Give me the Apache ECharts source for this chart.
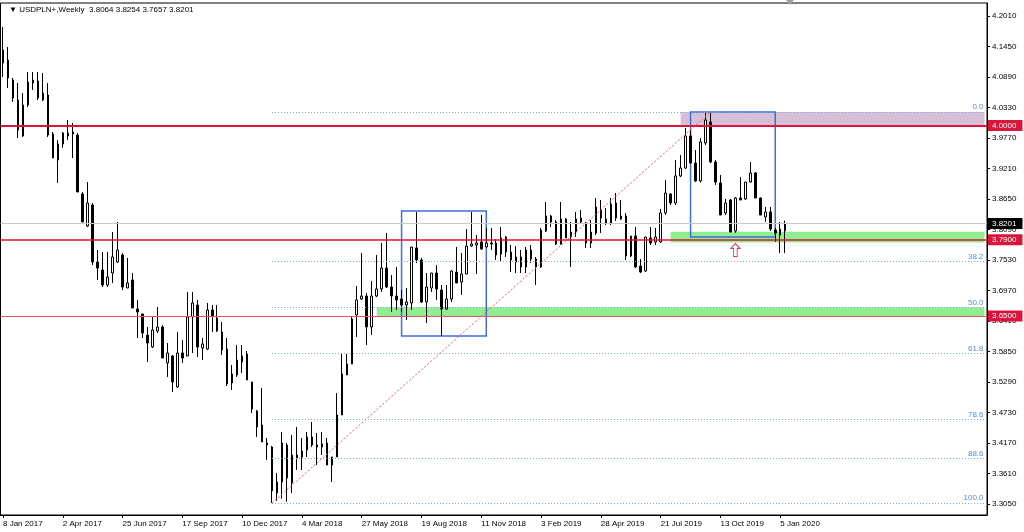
<!DOCTYPE html>
<html><head><meta charset="utf-8">
<script src="https://cdn.jsdelivr.net/npm/echarts@6/dist/echarts.min.js"></script>
<style>html,body{margin:0;padding:0;background:#fff;}#c{width:1024px;height:532px;}</style>
</head><body><div id="c"></div>
<script>
// ---- data (weekly USDPLN candles) ----
const openP = [4.1386,4.1202,4.0835,4.0468,3.9807,4.0376,4.0780,4.0817,4.0468,4.0560,
3.9844,3.9366,3.9660,3.9807,3.9844,3.9825,3.8742,3.8154,3.8540,3.7493,
3.7347,3.7071,3.7291,3.7493,3.7622,3.7016,3.7163,3.6630,3.6539,3.6153,
3.5933,3.6227,3.6300,3.5639,3.5768,3.5198,3.5823,3.5768,3.6484,3.6704,
3.5914,3.5896,3.6612,3.6465,3.6208,3.5896,3.5272,3.5419,3.5657,3.5804,
3.5290,3.4758,3.4501,3.4170,3.4097,3.3252,3.3454,3.4133,3.3436,3.3895,
3.3913,3.4042,3.4280,3.4133,3.4097,3.4170,3.3766,3.3913,3.4684,3.5419,
3.5621,3.6520,3.6814,3.6869,3.6300,3.6869,3.6998,3.7383,3.7034,3.6869,
3.6814,3.6704,3.6741,3.7751,3.7530,3.6759,3.7016,3.7291,3.6979,3.6630,
3.6814,3.7310,3.7126,3.7273,3.7787,3.7806,3.7861,3.7769,3.7842,3.7842,
3.7640,3.7952,3.7677,3.7493,3.7585,3.7402,3.7714,3.7549,3.7402,3.8063,
3.8338,3.8228,3.7824,3.8283,3.7952,3.8044,3.8301,3.8210,3.7842,3.8026,
3.8448,3.8283,3.8210,3.8301,3.8283,3.8338,3.7604,3.7971,3.7420,3.7328,
3.7934,3.7861,3.7861,3.8393,3.8742,3.8577,3.9073,3.9219,3.9807,3.9311,
3.8981,3.9678,4.0064,3.9330,3.8944,3.8393,3.8632,3.8063,3.8669,3.8650,
3.8962,3.9128,3.8669,3.8320,3.8412,3.8081,3.7989,3.8064];
const highP = [4.1808,4.1441,4.0872,4.0780,4.0596,4.0982,4.0982,4.0982,4.0964,4.0780,
3.9880,3.9734,3.9880,4.0101,4.0046,3.9862,3.8779,3.8962,3.8577,3.7714,
3.7677,3.7677,3.8044,3.8228,3.7659,3.7567,3.7291,3.6796,3.6539,3.6300,
3.6484,3.6667,3.6337,3.6006,3.5786,3.6208,3.6061,3.6943,3.6943,3.6796,
3.6098,3.6741,3.6704,3.6704,3.6392,3.6098,3.5602,3.5970,3.5970,3.5859,
3.5290,3.4776,3.5180,3.4262,3.4115,3.3619,3.4372,3.4170,3.4317,3.4464,
3.4262,3.4372,3.4556,3.4354,3.4372,3.4262,3.3913,3.5088,3.5804,3.5804,
3.6484,3.7053,3.7659,3.6924,3.7145,3.7622,3.7842,3.8026,3.7255,3.7402,
3.6979,3.7016,3.7769,3.8412,3.7567,3.7291,3.7291,3.7438,3.7071,3.7071,
3.7347,3.7769,3.7659,3.8099,3.8412,3.7989,3.8356,3.8118,3.8118,3.7916,
3.8136,3.7970,3.7806,3.7787,3.7714,3.7769,3.7806,3.7585,3.8118,3.8595,
3.8356,3.8265,3.8595,3.8301,3.8228,3.8412,3.8448,3.8228,3.8265,3.8669,
3.8632,3.8485,3.8669,3.8760,3.8632,3.8393,3.7971,3.8136,3.7549,3.7952,
3.8136,3.8118,3.8467,3.8999,3.8760,3.9366,3.9458,3.9954,3.9917,3.9550,
3.9770,4.0229,4.0248,3.9366,3.9091,3.8650,3.8650,3.8687,3.9054,3.8962,
3.9330,3.9146,3.8680,3.8503,3.8503,3.8118,3.8228,3.8254];
const lowP = [4.0890,4.0688,4.0431,3.9770,3.9789,4.0339,4.0652,4.0468,4.0450,3.9789,
3.9403,3.8944,3.9587,3.9734,3.9403,3.8779,3.8228,3.8136,3.7438,3.7163,
3.7034,3.7034,3.7108,3.7475,3.6979,3.7016,3.6649,3.6098,3.6098,3.5657,
3.5914,3.6190,3.5731,3.5382,3.5107,3.5180,3.5639,3.5768,3.5823,3.5749,
3.5694,3.5878,3.6208,3.6208,3.5786,3.5217,3.5143,3.5382,3.5455,3.5327,
3.4721,3.4280,3.4188,3.3858,3.3068,3.3110,3.3150,3.3090,3.3252,3.3674,
3.3674,3.3913,3.4097,3.3766,3.3950,3.3766,3.3454,3.3913,3.4684,3.5419,
3.5621,3.6116,3.6796,3.5970,3.6153,3.6851,3.6943,3.7016,3.6575,3.6612,
3.6575,3.6428,3.6612,3.7475,3.6741,3.6373,3.6943,3.6796,3.6135,3.6612,
3.6759,3.7108,3.6888,3.7273,3.7769,3.7273,3.7714,3.7760,3.7714,3.7530,
3.7493,3.7585,3.7310,3.7291,3.7291,3.7291,3.7475,3.7071,3.7383,3.8044,
3.8136,3.7806,3.7810,3.7934,3.7402,3.7952,3.8210,3.7751,3.7751,3.7989,
3.8026,3.8173,3.8173,3.8246,3.8265,3.7530,3.7585,3.7383,3.7291,3.7310,
3.7806,3.7806,3.7842,3.8356,3.8540,3.8540,3.9054,3.9200,3.9311,3.8962,
3.8950,3.9642,3.9311,3.8907,3.8356,3.8356,3.8044,3.8030,3.8632,3.8632,
3.8950,3.8669,3.8356,3.8228,3.8063,3.7861,3.7659,3.7657];
const closeP = [4.1147,4.0872,4.0505,3.9917,4.0376,4.0798,4.0835,4.0505,4.0596,3.9825,
3.9403,3.9660,3.9862,3.9862,3.9880,3.8779,3.8228,3.8577,3.7493,3.7383,
3.7071,3.7218,3.7585,3.7714,3.7034,3.7108,3.6649,3.6575,3.6190,3.6006,
3.6245,3.6300,3.5731,3.5823,3.5290,3.5823,3.5731,3.6484,3.6741,3.5933,
3.5988,3.6612,3.6502,3.6227,3.5878,3.5253,3.5437,3.5694,3.5768,3.5327,
3.4794,3.4464,3.4188,3.4133,3.3289,3.3454,3.4170,3.3527,3.3950,3.3950,
3.4023,3.4280,3.4133,3.4097,3.4152,3.3766,3.3913,3.4684,3.5437,3.5621,
3.6447,3.6796,3.6869,3.6300,3.6869,3.6998,3.7383,3.7034,3.6869,3.6796,
3.6704,3.6759,3.7769,3.7530,3.6759,3.7034,3.7291,3.6998,3.6630,3.6814,
3.7328,3.7108,3.7273,3.7787,3.7824,3.7842,3.7732,3.7842,3.7824,3.7622,
3.7934,3.7677,3.7530,3.7585,3.7402,3.7714,3.7549,3.7402,3.8081,3.8338,
3.8228,3.7824,3.8283,3.7934,3.8044,3.8283,3.8228,3.7842,3.8044,3.8503,
3.8301,3.8210,3.8558,3.8577,3.8338,3.7604,3.7971,3.7402,3.7310,3.7952,
3.7842,3.7952,3.8393,3.8760,3.8577,3.9073,3.9219,3.9807,3.9311,3.8981,
3.9697,4.0101,3.9330,3.8962,3.8356,3.8577,3.8044,3.8669,3.8632,3.8962,
3.9128,3.8669,3.8356,3.8412,3.8099,3.8026,3.8099,3.8201];

const xTickLabels = ['8 Jan 2017','2 Apr 2017','25 Jun 2017','17 Sep 2017','10 Dec 2017','4 Mar 2018','27 May 2018','19 Aug 2018','11 Nov 2018','3 Feb 2019','28 Apr 2019','21 Jul 2019','13 Oct 2019','5 Jan 2020'];
const yTickValues = [3.3050,3.3610,3.4170,3.4730,3.5290,3.5850,3.6410,3.6970,3.7530,3.8090,3.8650,3.9210,3.9770,4.0330,4.0890,4.1450,4.2010];
const titleText = 'USDPLN+,Weekly';
const keyLevels = [4.0000, 3.7900, 3.6500];
const lastPrice = 3.8201;
const fibRatios = [0.0, 38.2, 50.0, 61.8, 78.6, 88.6, 100.0];
const fibLowIdx = 54, fibHighIdx = 142;
const purpleZone = [136, 4.0248, 3.9980];
const greenZone1 = [134, 3.8050, 3.7850];
const greenZone2 = [75, 3.6662, 3.6502];
const blueBox1 = [80, 97, 3.8430, 3.6135];
const blueBox2 = [138, 155, 4.0248, 3.7952];
const arrowPoint = [147, 3.7714];

// ---- build ----
const nSlots = 198;
const MON = ['Jan','Feb','Mar','Apr','May','Jun','Jul','Aug','Sep','Oct','Nov','Dec'];
const t0 = Date.UTC(2017,0,8);
const categories = [];
for (let i = 0; i < nSlots; i++) {
  const d = new Date(t0 + i*7*86400000);
  categories.push(d.getUTCDate()+' '+MON[d.getUTCMonth()]+' '+d.getUTCFullYear());
}
const candles = openP.map((o,i)=>[o, closeP[i], lowP[i], highP[i]]);
const lastIdx = nSlots - 1;
const FONT = "'Liberation Sans', Arial, sans-serif";
const showTick = (idx) => idx % 12 === 0 && idx / 12 < xTickLabels.length;

const fibLow = lowP[fibLowIdx], fibHigh = highP[fibHighIdx];
const fibLines = fibRatios.map(r => {
  const v = fibHigh - (fibHigh - fibLow) * r / 100;
  return [
    {coord:[fibLowIdx, v], lineStyle:{color:'#7ea8dd', type:[1,2], width:1},
     label:{show:true, position:'insideEndTop', formatter: r.toFixed(1), color:'#5b8bd0', fontSize:8, fontFamily:FONT, distance:1}},
    {coord:[lastIdx, v]}
  ];
});

const tag = (txt, bg) => ({show:true, position:'end', formatter: txt, backgroundColor: bg, color:'#fff',
  fontSize:8, fontFamily:FONT, padding:[2,6,1,4], distance:1});

const chart = echarts.init(document.getElementById('c'), null, {renderer:'canvas'});
chart.setOption({
  animation:false,
  backgroundColor:'#ffffff',
  title:{text:'\u25BC '+titleText+'  '+[openP[157],highP[157],lowP[157],closeP[157]].map(v=>v.toFixed(4)).join(' '),
    left:4, top:1, textStyle:{fontSize:8, fontWeight:'normal', color:'#000', fontFamily:FONT}},
  grid:{left:0, right:37, top:3, bottom:17, show:true, borderColor:'#000', borderWidth:1, backgroundColor:'#fff'},
  xAxis:{type:'category', data:categories, boundaryGap:true,
    axisLine:{show:true, lineStyle:{color:'#000'}},
    axisTick:{show:true, alignWithLabel:true, interval:(i)=>showTick(i), length:3, lineStyle:{color:'#000'}},
    axisLabel:{interval:(i)=>showTick(i), align:'left', margin:5, fontSize:8, color:'#000', fontFamily:FONT,
      formatter:(v, i)=> xTickLabels[i/12] || v},
    splitLine:{show:false}},
  yAxis:{type:'value', position:'right', min:3.2848, max:4.2249, scale:true,
    axisLine:{show:true, lineStyle:{color:'#000'}},
    axisTick:{show:true, customValues:yTickValues, length:3, lineStyle:{color:'#000'}},
    axisLabel:{customValues:yTickValues, formatter:(v)=>v.toFixed(4), margin:5, fontSize:8, color:'#000', fontFamily:FONT},
    splitLine:{show:false}},
  series:[{
    type:'candlestick', data:candles, barWidth:2,
    itemStyle:{color:'#ffffff', color0:'#000000', borderColor:'#000000', borderColor0:'#000000', borderColorDoji:'#000000', borderWidth:1},
    markArea:{silent:true, data:[
      [{coord:[purpleZone[0], purpleZone[1]], itemStyle:{color:'#d8bfd8'}}, {coord:[lastIdx, purpleZone[2]]}],
      [{coord:[greenZone1[0], greenZone1[1]], itemStyle:{color:'#90ee90'}}, {coord:[lastIdx, greenZone1[2]]}],
      [{coord:[greenZone2[0], greenZone2[1]], itemStyle:{color:'#90ee90'}}, {coord:[lastIdx, greenZone2[2]]}],
      [{coord:[blueBox1[0], blueBox1[2]], itemStyle:{color:'rgba(0,0,0,0)', borderColor:'#3d6ee0', borderWidth:1.5}}, {coord:[blueBox1[1], blueBox1[3]]}],
      [{coord:[blueBox2[0], blueBox2[2]], itemStyle:{color:'rgba(0,0,0,0)', borderColor:'#3d6ee0', borderWidth:1.5}}, {coord:[blueBox2[1], blueBox2[3]]}]
    ]},
    markLine:{silent:true, symbol:['none','none'], data:[
      ...fibLines,
      [{coord:[fibLowIdx, fibLow], lineStyle:{color:'#ff5a5a', type:[2,2], width:1}, label:{show:false}}, {coord:[fibHighIdx, fibHigh]}],
      {yAxis:lastPrice, lineStyle:{color:'#c8c8c8', type:'solid', width:1}, label:tag(lastPrice.toFixed(4), '#000000')},
      {yAxis:keyLevels[2], lineStyle:{color:'#e8506a', type:'solid', width:1}, label:tag(keyLevels[2].toFixed(4), '#dc143c')},
      {yAxis:keyLevels[1], lineStyle:{color:'#dc143c', type:'solid', width:1.5}, label:tag(keyLevels[1].toFixed(4), '#dc143c')},
      {yAxis:keyLevels[0], lineStyle:{color:'#dc143c', type:'solid', width:2}, label:tag(keyLevels[0].toFixed(4), '#dc143c')}
    ]},
    markPoint:{silent:true, data:[
      {coord:arrowPoint, symbol:'path://M5,0 L10,5 L7,5 L7,13 L3,13 L3,5 L0,5 Z', symbolSize:[9,13],
       itemStyle:{color:'#ffffff', borderColor:'#e8304a', borderWidth:1}, label:{show:false}}
    ]}
  }],
  graphic:[{type:'polygon', shape:{points:[[786,0],[794,0],[790,5]]}, style:{fill:'#a0a0a0'}}]
});
</script></body></html>
